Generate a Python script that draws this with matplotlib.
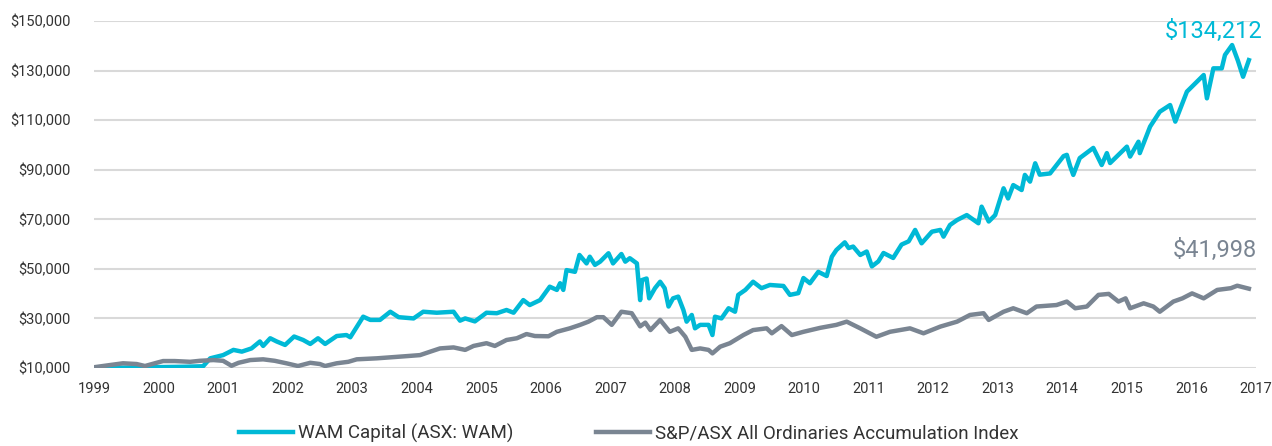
import numpy as np
import matplotlib.pyplot as plt

# DATA (growth of $10,000)
wam_years = [1999.00, 1999.60, 2000.00, 2000.40, 2000.69, 2000.80, 2001.00, 2001.16, 2001.29, 2001.44,
             2001.57, 2001.62, 2001.73, 2001.83, 2001.96, 2002.10, 2002.24, 2002.35, 2002.47, 2002.58,
             2002.76, 2002.91, 2002.97, 2003.04, 2003.17, 2003.28, 2003.43, 2003.59, 2003.72, 2003.95,
             2004.10, 2004.31, 2004.57, 2004.67, 2004.75, 2004.90, 2005.08, 2005.24, 2005.39, 2005.50,
             2005.65, 2005.75, 2005.91, 2006.06, 2006.17, 2006.22, 2006.27, 2006.32, 2006.45, 2006.52,
             2006.63, 2006.68, 2006.76, 2006.84, 2006.97, 2007.04, 2007.17, 2007.23, 2007.30, 2007.41,
             2007.46, 2007.49, 2007.56, 2007.60, 2007.69, 2007.77, 2007.84, 2007.90, 2007.97, 2008.05,
             2008.13, 2008.18, 2008.26, 2008.31, 2008.39, 2008.52, 2008.58, 2008.62, 2008.72, 2008.83,
             2008.93, 2008.98, 2009.09, 2009.21, 2009.34, 2009.47, 2009.68, 2009.78, 2009.91, 2009.99,
             2010.09, 2010.22, 2010.35, 2010.43, 2010.50, 2010.63, 2010.69, 2010.76, 2010.87, 2010.97,
             2011.05, 2011.15, 2011.23, 2011.38, 2011.51, 2011.62, 2011.72, 2011.82, 2011.98, 2012.11,
             2012.16, 2012.26, 2012.37, 2012.52, 2012.70, 2012.75, 2012.86, 2012.96, 2013.09, 2013.16,
             2013.24, 2013.37, 2013.42, 2013.50, 2013.58, 2013.65, 2013.81, 2014.02, 2014.07, 2014.12,
             2014.17, 2014.27, 2014.48, 2014.61, 2014.69, 2014.74, 2015.00, 2015.05, 2015.18, 2015.20,
             2015.36, 2015.51, 2015.67, 2015.75, 2015.93, 2016.19, 2016.24, 2016.34, 2016.47, 2016.52,
             2016.63, 2016.72, 2016.80, 2016.89]
wam_values = [10000, 10200, 10300, 10500, 10700, 13900, 15200, 17300, 16600, 17900,
              20700, 18900, 22000, 20700, 19300, 22700, 21300, 19700, 22000, 19700,
              22900, 23300, 22400, 25300, 30700, 29400, 29400, 32700, 30500, 30000,
              32700, 32300, 32700, 29100, 30000, 28800, 32300, 32100, 33400, 32300,
              37400, 35400, 37400, 42800, 41500, 44200, 41500, 49500, 48800, 55600,
              52200, 54900, 51600, 52900, 56300, 52200, 56000, 52900, 54300, 52200,
              37400, 45500, 46100, 38100, 42200, 44800, 42200, 34800, 38100, 38800,
              33400, 28700, 31400, 26000, 27400, 27400, 23300, 30700, 30000, 34100,
              32700, 39500, 41500, 44800, 42200, 43500, 43100, 39500, 40200, 46300,
              44200, 48800, 47100, 54900, 57600, 60700, 58400, 59000, 55600, 57000,
              51000, 53000, 56400, 54400, 59800, 61100, 65700, 60300, 65000, 65700,
              63000, 67700, 69700, 71700, 68400, 75100, 69100, 71700, 82500, 78400,
              83800, 81800, 87900, 85200, 92600, 88000, 88500, 95500, 96000, 91500,
              87900, 94700, 98800, 91900, 96700, 92700, 99300, 95300, 101300, 96700,
              107400, 113400, 116100, 109400, 121500, 128200, 118800, 130900, 130900, 136300,
              140300, 134000, 127500, 134212]

idx_years = [1999.00, 1999.25, 1999.45, 1999.66, 1999.79, 1999.97, 2000.07, 2000.25, 2000.49, 2000.64,
             2000.85, 2001.00, 2001.13, 2001.24, 2001.42, 2001.62, 2001.80, 2001.98, 2002.16, 2002.35,
             2002.50, 2002.58, 2002.76, 2002.94, 2003.07, 2003.38, 2003.59, 2003.85, 2004.05, 2004.21,
             2004.36, 2004.57, 2004.75, 2004.88, 2005.08, 2005.21, 2005.39, 2005.55, 2005.70, 2005.83,
             2006.04, 2006.17, 2006.37, 2006.53, 2006.66, 2006.79, 2006.89, 2007.02, 2007.17, 2007.33,
             2007.46, 2007.54, 2007.62, 2007.77, 2007.92, 2008.05, 2008.16, 2008.26, 2008.39, 2008.52,
             2008.58, 2008.70, 2008.85, 2009.06, 2009.21, 2009.42, 2009.50, 2009.65, 2009.81, 2009.99,
             2010.25, 2010.50, 2010.66, 2010.87, 2011.12, 2011.33, 2011.64, 2011.85, 2012.11, 2012.37,
             2012.57, 2012.78, 2012.86, 2013.09, 2013.24, 2013.45, 2013.60, 2013.91, 2014.07, 2014.20,
             2014.38, 2014.56, 2014.72, 2014.87, 2014.98, 2015.05, 2015.26, 2015.41, 2015.51, 2015.72,
             2015.86, 2016.01, 2016.19, 2016.40, 2016.61, 2016.71, 2016.89]
idx_values = [10300, 11200, 11900, 11600, 10800, 12100, 12800, 12800, 12500, 12900,
              13200, 12900, 10900, 12100, 13200, 13500, 12900, 11900, 10800, 12100,
              11600, 10800, 11900, 12500, 13500, 13900, 14300, 14800, 15200, 16600,
              17900, 18300, 17300, 18900, 20000, 18900, 21300, 22000, 23700, 22900,
              22800, 24600, 26000, 27400, 28700, 30500, 30500, 27400, 32700, 32100,
              26800, 28300, 25300, 29400, 24600, 26000, 22600, 17300, 17900, 17300,
              15900, 18600, 20000, 23300, 25300, 26000, 24000, 26900, 23300, 24600,
              26200, 27400, 28700, 26000, 22600, 24600, 26000, 24000, 26700, 28700,
              31400, 32100, 29400, 32700, 34100, 32100, 34800, 35400, 36800, 34100,
              34800, 39500, 39900, 36800, 38100, 34100, 36100, 34800, 32700, 36800,
              38100, 40100, 38100, 41500, 42200, 43200, 41998]

year_ticks = list(range(1999, 2018))
value_ticks = list(range(10000, 150001, 20000))

WAM_COLOR = "#00B9D6"
IDX_COLOR = "#7A8592"

plt.rcParams['font.family'] = ['Roboto', 'DejaVu Sans']

fig = plt.figure(figsize=(12.72, 4.46), dpi=100)
ax = fig.add_axes([0.0739, 0.1749, 0.9135, 0.778])

ax.plot(wam_years, wam_values, color=WAM_COLOR, lw=3.2, label="WAM Capital (ASX: WAM)", zorder=3)
ax.plot(idx_years, idx_values, color=IDX_COLOR, lw=3.2,
        label="S&P/ASX All Ordinaries Accumulation Index", zorder=4)

ax.set_xlim(1999, 2017)
ax.set_ylim(10000, 150000)
ax.set_xticks(year_ticks)
ax.set_yticks(value_ticks)
ax.set_yticklabels([f"${v:,.0f}" for v in value_ticks])
ax.tick_params(axis='both', length=0, labelsize=10.5, labelcolor="#333333")
ax.tick_params(axis='y', pad=17)
ax.tick_params(axis='x', pad=10)
ax.grid(axis='y', color="#D9D9D9", lw=1.5, zorder=0)
ax.set_axisbelow(True)
for s in ax.spines.values():
    s.set_visible(False)

# end value labels
ax.text(2017.1, 145600, f"${wam_values[-1]:,.0f}", color=WAM_COLOR, fontsize=17,
        ha='right', va='center', clip_on=False)
ax.text(2017.02, 57600, f"${idx_values[-1]:,.0f}", color=IDX_COLOR, fontsize=17,
        ha='right', va='center', clip_on=False)

leg = fig.legend(loc='center', bbox_to_anchor=(0.4945, 0.028), ncol=2, frameon=False,
                 fontsize=13.5, handlelength=2.85, handletextpad=0.3, columnspacing=4.4)
for t in leg.get_texts():
    t.set_color("#333333")

fig.savefig("out.png", dpi=100)
